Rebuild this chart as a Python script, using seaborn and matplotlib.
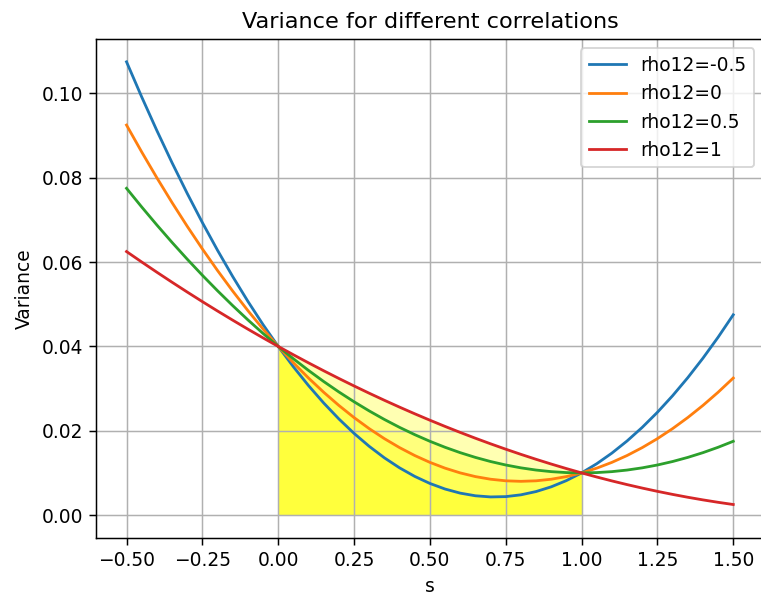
import matplotlib
matplotlib.use("Agg")
import matplotlib.pyplot as plt
import seaborn as sns
import pandas as pd
import numpy as np

s = [-0.5, -0.45, -0.4, -0.35, -0.3, -0.25, -0.2, -0.15, -0.1, -0.05,
     0.0, 0.05, 0.1, 0.15, 0.2, 0.25, 0.3, 0.35, 0.4, 0.45,
     0.5, 0.55, 0.6, 0.65, 0.7, 0.75, 0.8, 0.85, 0.9, 0.95,
     1.0, 1.05, 1.1, 1.15, 1.2, 1.25, 1.3, 1.35, 1.4, 1.45, 1.5]

var_rho_m05 = [0.1075, 0.099175, 0.0912, 0.083575, 0.0763, 0.069375, 0.0628, 0.056575,
               0.0507, 0.045175, 0.04, 0.035175, 0.0307, 0.026575, 0.0228, 0.019375,
               0.0163, 0.013575, 0.0112, 0.009175, 0.0075, 0.006175, 0.0052, 0.004575,
               0.0043, 0.004375, 0.0048, 0.005575, 0.0067, 0.008175, 0.01, 0.012175,
               0.0147, 0.017575, 0.0208, 0.024375, 0.0283, 0.032575, 0.0372, 0.042175,
               0.0475]
var_rho_0 = [0.0925, 0.086125, 0.08, 0.074125, 0.0685, 0.063125, 0.058, 0.053125,
             0.0485, 0.044125, 0.04, 0.036125, 0.0325, 0.029125, 0.026, 0.023125,
             0.0205, 0.018125, 0.016, 0.014125, 0.0125, 0.011125, 0.01, 0.009125,
             0.0085, 0.008125, 0.008, 0.008125, 0.0085, 0.009125, 0.01, 0.011125,
             0.0125, 0.014125, 0.016, 0.018125, 0.0205, 0.023125, 0.026, 0.029125,
             0.0325]
var_rho_05 = [0.0775, 0.073075, 0.0688, 0.064675, 0.0607, 0.056875, 0.0532, 0.049675,
              0.0463, 0.043075, 0.04, 0.037075, 0.0343, 0.031675, 0.0292, 0.026875,
              0.0247, 0.022675, 0.0208, 0.019075, 0.0175, 0.016075, 0.0148, 0.013675,
              0.0127, 0.011875, 0.0112, 0.010675, 0.0103, 0.010075, 0.01, 0.010075,
              0.0103, 0.010675, 0.0112, 0.011875, 0.0127, 0.013675, 0.0148, 0.016075,
              0.0175]
var_rho_1 = [0.0625, 0.060025, 0.0576, 0.055225, 0.0529, 0.050625, 0.0484, 0.046225,
             0.0441, 0.042025, 0.04, 0.038025, 0.0361, 0.034225, 0.0324, 0.030625,
             0.0289, 0.027225, 0.0256, 0.024025, 0.0225, 0.021025, 0.0196, 0.018225,
             0.0169, 0.015625, 0.0144, 0.013225, 0.0121, 0.011025, 0.01, 0.009025,
             0.0081, 0.007225, 0.0064, 0.005625, 0.0049, 0.004225, 0.0036, 0.003025,
             0.0025]

labels = ["rho12=-0.5", "rho12=0", "rho12=0.5", "rho12=1"]
series = [var_rho_m05, var_rho_0, var_rho_05, var_rho_1]
colors = ["#1f77b4", "#ff7f0e", "#2ca02c", "#d62728"]

DPI = 134
fig = plt.figure(figsize=(761 / DPI, 599 / DPI), dpi=DPI)
ax = fig.add_axes([0.1264, 0.1023, 0.877, 0.8323])

s_arr = np.array(s)
mask = (s_arr >= -1e-9) & (s_arr <= 1 + 1e-9)
for lab, vals, col in zip(labels, series, colors):
    df = pd.DataFrame({"s": s, "Variance": vals})
    sns.lineplot(data=df, x="s", y="Variance", ax=ax, color=col, label=lab)
    ax.fill_between(s_arr, np.array(vals), where=mask, color="yellow", alpha=0.3,
                    linewidth=0)

ax.grid(True)
ax.set_title("Variance for different correlations")
ax.set_xlabel("s")
ax.set_ylabel("Variance")
ax.legend(loc="upper right")
fig.savefig("out.png", dpi=DPI)
